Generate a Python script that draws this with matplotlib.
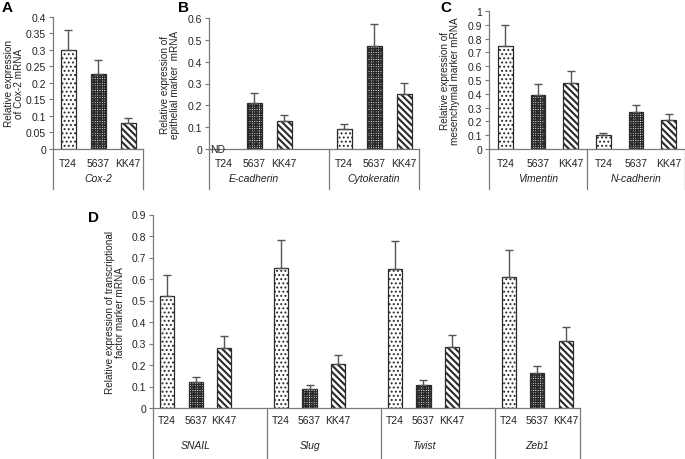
import matplotlib
matplotlib.use("Agg")
import matplotlib.pyplot as plt
import matplotlib.transforms as mtransforms
from matplotlib.lines import Line2D
import numpy as np

plt.rcParams['font.family'] = ['Liberation Sans', 'DejaVu Sans']

# ---------------- data ----------------
cells = ["T24", "5637", "KK47"]

a_genes = ["Cox-2"]
a_vals = [[0.30, 0.225, 0.08]]
a_errs = [[0.06, 0.043, 0.013]]

b_genes = ["E-cadherin", "Cytokeratin"]
b_vals = [[0.0, 0.21, 0.128], [0.092, 0.472, 0.252]]
b_errs = [[0.0, 0.046, 0.028], [0.022, 0.10, 0.05]]

c_genes = ["Vimentin", "N-cadherin"]
c_vals = [[0.75, 0.39, 0.475], [0.10, 0.27, 0.21]]
c_errs = [[0.15, 0.08, 0.09], [0.015, 0.05, 0.045]]

d_genes = ["SNAIL", "Slug", "Twist", "Zeb1"]
d_vals = [[0.52, 0.12, 0.28], [0.652, 0.09, 0.205], [0.645, 0.108, 0.282], [0.61, 0.163, 0.313]]
d_errs = [[0.10, 0.023, 0.055], [0.13, 0.017, 0.043], [0.13, 0.022, 0.058], [0.125, 0.034, 0.065]]

hatches = ['....', '+++++++', '\\\\\\\\\\']
hatch_lw = [0.9, 1.0, 1.5]
ecol = '#2a2a2a'
scol = '#7a7a7a'
tcol = '#222222'

W, H = 685, 460
fig = plt.figure(figsize=(W / 100, H / 100), dpi=100)


def make_ax(left, top, right, bottom):
    return fig.add_axes([left / W, 1 - bottom / H, (right - left) / W, (bottom - top) / H])


def panel(ax, genes, vals, errs, group_slots, ymax, ystep, ylabel,
          ylabel_x, lab_dy, name_dy, brk_dy, barw=0.5, nd=False):
    total = sum(group_slots)
    ax.set_xlim(0, total)
    ax.set_ylim(0, ymax)
    trans = mtransforms.blended_transform_factory(ax.transData, ax.transAxes)
    start = 0
    dividers = [0]
    for gi, gene in enumerate(genes):
        pos = start + np.arange(3) + 0.5
        v = np.array(vals[gi])
        e = np.array(errs[gi])
        for k in range(3):
            if v[k] > 0:
                with plt.rc_context({'hatch.linewidth': hatch_lw[k]}):
                    ax.bar(pos[k], v[k], width=barw, color='white', edgecolor=ecol,
                           hatch=hatches[k], linewidth=0.9, zorder=2)
                ax.errorbar(pos[k], v[k], yerr=[[0], [e[k]]], fmt='none',
                            ecolor='#555555', elinewidth=1.0, capsize=3,
                            capthick=1.0, zorder=3)
        t = mtransforms.offset_copy(trans, fig=fig, x=0, y=-lab_dy, units='dots')
        for k in range(3):
            ax.text(pos[k], 0, cells[k], transform=t, ha='center', va='center',
                    fontsize=7.5, color=tcol)
        t = mtransforms.offset_copy(trans, fig=fig, x=0, y=-name_dy, units='dots')
        ax.text(pos[1], 0, gene, transform=t, ha='center', va='center',
                fontsize=7.5, style='italic', color=tcol)
        start += group_slots[gi]
        dividers.append(start)
    # bracket lines below the baseline
    fig.canvas.draw()
    for d in dividers:
        p0 = trans.transform((d, 0))
        fig.add_artist(Line2D([p0[0] / W, p0[0] / W],
                              [p0[1] / H, (p0[1] - brk_dy) / H],
                              color=scol, lw=0.9))
    for s in ['top', 'right']:
        ax.spines[s].set_visible(False)
    for s in ['left', 'bottom']:
        ax.spines[s].set_color(scol)
        ax.spines[s].set_linewidth(0.9)
    ax.set_xticks([])
    yt = np.round(np.arange(0, ymax + ystep / 2, ystep), 3)
    ax.set_yticks(yt)
    ax.set_yticklabels([('%.2f' % y).rstrip('0').rstrip('.') for y in yt])
    ax.tick_params(axis='y', direction='out', length=3, width=0.8, color=scol,
                   labelsize=7.5, labelcolor=tcol, pad=2)
    ax.set_ylabel(ylabel, fontsize=7.2, color=tcol, linespacing=1.0)
    ax.yaxis.set_label_coords(ylabel_x, 0.5)
    if nd:
        ax.text(0.28, 0, 'ND', ha='center', va='center', fontsize=7.5, color=tcol,
                zorder=4)


axA = make_ax(53, 17.5, 143, 150)
panel(axA, a_genes, a_vals, a_errs, [3], 0.4, 0.05,
      "Relative expression\nof Cox-2 mRNA", -0.32, 14, 29, 40)

axB = make_ax(209, 19, 419, 150)
panel(axB, b_genes, b_vals, b_errs, [4, 3], 0.6, 0.1,
      "Relative expression of\nepithelial marker  mRNA", -0.14, 14, 29, 40, nd=True)

axC = make_ax(489, 12, 685, 150)
panel(axC, c_genes, c_vals, c_errs, [3, 3], 1.0, 0.1,
      "Relative expression of\nmesenchymal marker mRNA", -0.15, 14, 29, 40, barw=0.45)

axD = make_ax(153, 215.5, 580, 409)
panel(axD, d_genes, d_vals, d_errs, [4, 4, 4, 3], 0.9, 0.1,
      "Relative expression of transcriptional\nfactor marker mRNA", -0.066, 12, 37, 55)

fig.text(2 / W, 1 - 8 / H, 'A', fontsize=11, fontweight='bold', va='center', ha='left')
fig.text(178 / W, 1 - 8 / H, 'B', fontsize=11, fontweight='bold', va='center', ha='left')
fig.text(440 / W, 1 - 8 / H, 'C', fontsize=11, fontweight='bold', va='center', ha='left')
fig.text(88 / W, 1 - 218 / H, 'D', fontsize=11, fontweight='bold', va='center', ha='left')

fig.savefig('out.png', dpi=100)
